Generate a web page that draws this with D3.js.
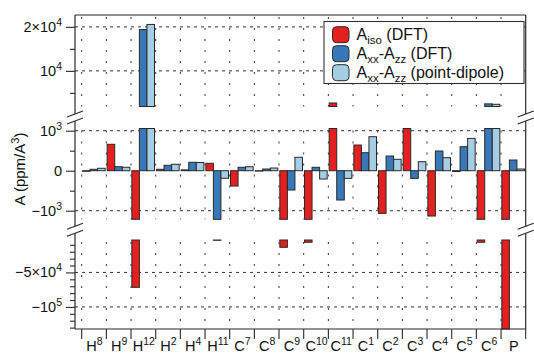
<!DOCTYPE html>
<html><head><meta charset="utf-8">
<script src="https://cdn.jsdelivr.net/npm/d3@7"></script>
<style>
html,body{margin:0;padding:0;background:#fff;}
svg{display:block;font-family:"Liberation Sans",Arial,Helvetica,sans-serif;}
</style></head><body>
<svg id="chart" width="534" height="354"></svg>
<script>
// Hyperfine coupling per nucleus: isotropic and anisotropic parts (ppm/Å^3)
const categories   = ["H8","H9","H12","H2","H4","H11","C7","C8","C9","C10","C11","C1","C2","C3","C4","C5","C6","P"];
const categoryAtom = ["H","H","H","H","H","H","C","C","C","C","C","C","C","C","C","C","C","P"];
const categorySite = ["8","9","12","2","4","11","7","8","9","10","11","1","2","3","4","5","6",""];

const aisoDFT     = [-15, 660, -71600, 35, 20, 185, -383, -10, -13600, -6300, 2700, 642, -1067, 1400, -1133, -20, -6300, -140000];
const anisoDFT    = [35, 100, 19400, 135, 210, -3400, 85, 42, -483, 85, -733, 450, 367, -192, 492, 600, 2500, 267];
const anisoDipole = [60, 85, 20550, 160, 205, -190, 100, 67, 335, -208, -192, 850, 285, 225, 325, 808, 2400, 42];

const seriesColors = ["#e41f1f", "#3878b8", "#a5cde3"];
// legend labels as [text, isSubscript] runs
const legendLabels = [
  [["A",0],["iso",1],[" (DFT)",0]],
  [["A",0],["xx",1],["-A",0],["zz",1],[" (DFT)",0]],
  [["A",0],["xx",1],["-A",0],["zz",1],[" (point-dipole)",0]]
];

// axis ticks per panel: values, label base and exponent
const topTicks = [10000, 20000], topTickBase = ["10","2\u00d710"], topTickSup = ["4","4"];
const topMinor = [5000, 15000];
const midTicks = [-1000, 0, 1000], midTickBase = ["\u221210","0","10"], midTickSup = ["3","","3"];
const midMinor = [-500, 500];
const botTicks = [-100000, -50000], botTickBase = ["\u221210","\u22125\u00d710"], botTickSup = ["5","4"];
const botMinor = [-10000,-20000,-30000,-40000,-60000,-70000,-80000,-90000,-110000,-120000,-130000];

const series = [aisoDFT, anisoDFT, anisoDipole];

const svg = d3.select("#chart");
const left = 75, right = 525.7, bottomY = 329, topY = 15;

const x0 = d3.scaleBand().domain(categories).range([81.7, right]).padding(0);
const bw = x0.bandwidth();
const x1 = d3.scaleBand().domain([0,1,2]).range([0.8, bw - 1.2]).padding(0);

const panels = [
  {domain:[1900, 22700],     range:[106.5, 15],   ticks:topTicks, base:topTickBase, sup:topTickSup, minor:topMinor},
  {domain:[-1215, 1055],     range:[219.3, 128.5], ticks:midTicks, base:midTickBase, sup:midTickSup, minor:midMinor},
  {domain:[-132000, -3000],  range:[329, 240],    ticks:botTicks, base:botTickBase, sup:botTickSup, minor:botMinor}
];
panels.forEach(p => { p.y = d3.scaleLinear().domain(p.domain).range(p.range); });

const ink = "#2a2a2a";
const gridG = svg.append("g");
const barG = svg.append("g");

// grid: dashed horizontals at labelled values, dotted verticals between groups
const bounds = categories.map(c => x0(c));
panels.forEach(p => {
  const gridTicks = p.ticks.filter(v => v !== 0);
  gridG.selectAll(null).data(gridTicks).join("line")
    .attr("x1", left).attr("x2", right)
    .attr("y1", d => p.y(d)).attr("y2", d => p.y(d))
    .attr("stroke", "#333").attr("stroke-width", 1).attr("stroke-dasharray", "3,4");
  gridG.selectAll(null).data(bounds).join("line")
    .attr("x1", d => d).attr("x2", d => d)
    .attr("y1", p.range[1] + 2).attr("y2", p.range[0])
    .attr("stroke", "#333").attr("stroke-width", 1).attr("stroke-dasharray", "2,9");
});

// bars, split over the three panels
panels.forEach(p => {
  const segs = [];
  series.forEach((vals, s) => {
    vals.forEach((v, i) => {
      const lo = Math.max(Math.min(0, v), p.domain[0]);
      const hi = Math.min(Math.max(0, v), p.domain[1]);
      if (hi > lo) segs.push({i, s, lo, hi});
    });
  });
  barG.selectAll(null).data(segs).join("rect")
    .attr("x", d => x0(categories[d.i]) + x1(d.s))
    .attr("width", x1.bandwidth())
    .attr("y", d => p.y(d.hi))
    .attr("height", d => Math.max(0.3, p.y(d.lo) - p.y(d.hi)))
    .attr("fill", d => seriesColors[d.s])
    .attr("stroke", ink).attr("stroke-width", 1);
});

// left axis ticks and labels
const axG = svg.append("g");
panels.forEach(p => {
  const major = axG.append("g").attr("transform", `translate(${left},0)`)
    .call(d3.axisLeft(p.y).tickValues(p.ticks).tickSize(9).tickFormat(""));
  major.select(".domain").remove();
  major.selectAll("line").attr("stroke", ink).attr("stroke-width", 1.1);
  const minor = axG.append("g").attr("transform", `translate(${left},0)`)
    .call(d3.axisLeft(p.y).tickValues(p.minor).tickSize(5).tickFormat(""));
  minor.select(".domain").remove();
  minor.selectAll("line").attr("stroke", ink).attr("stroke-width", 1.1);
  p.ticks.forEach((v, k) => {
    const t = axG.append("text").attr("x", 62).attr("y", p.y(v) + 5)
      .attr("text-anchor", "end").attr("font-size", 14.5).attr("fill", "#111");
    t.append("tspan").text(p.base[k]);
    if (p.sup[k]) t.append("tspan").attr("dy", -6).attr("font-size", 10.5).text(p.sup[k]);
  });
});

// frame with broken left and right edges
const gaps = [117.5, 229.7];
const frame = svg.append("g").attr("stroke", ink).attr("stroke-width", 1.2).attr("fill", "none");
frame.append("line").attr("x1", left).attr("x2", right).attr("y1", topY).attr("y2", topY);
frame.append("line").attr("x1", left).attr("x2", right).attr("y1", bottomY).attr("y2", bottomY);
[left, right].forEach(xe => {
  const segsY = [[topY, gaps[0] - 3.5], [gaps[0] + 3.5, gaps[1] - 3.5], [gaps[1] + 3.5, bottomY]];
  segsY.forEach(s => frame.append("line").attr("x1", xe).attr("x2", xe).attr("y1", s[0]).attr("y2", s[1]));
  gaps.forEach(g => {
    [-3.5, 3.5].forEach(o => {
      frame.append("line").attr("x1", xe - 8).attr("y1", g + o + 3)
        .attr("x2", xe + 8).attr("y2", g + o - 3);
    });
  });
});

// bottom axis: ticks between groups, labels with site numbers
const tickXs = bounds.concat([right]);
axG.selectAll(null).data(tickXs).join("line")
  .attr("x1", d => d).attr("x2", d => d).attr("y1", bottomY).attr("y2", bottomY + 10)
  .attr("stroke", ink).attr("stroke-width", 1.1);
categories.forEach((c, i) => {
  const t = axG.append("text").attr("x", x0(c) + bw / 2 + 0.5).attr("y", 351)
    .attr("text-anchor", "middle").attr("font-size", 14.5).attr("fill", "#111");
  t.append("tspan").text(categoryAtom[i]);
  if (categorySite[i]) t.append("tspan").attr("dy", -6.5).attr("font-size", 10.5).text(categorySite[i]);
});

// y axis title
const yt = svg.append("text").attr("transform", "translate(25,169) rotate(-90)")
  .attr("text-anchor", "middle").attr("font-size", 15).attr("fill", "#111");
yt.append("tspan").text("A (ppm/A");
yt.append("tspan").attr("dy", -6).attr("font-size", 11).text("3");
yt.append("tspan").attr("dy", 6).text(")");

// legend
const lg = svg.append("g");
lg.append("rect").attr("x", 324).attr("y", 21.5).attr("width", 200).attr("height", 62)
  .attr("fill", "#fff").attr("stroke", "#333").attr("stroke-width", 1.1);
legendLabels.forEach((runs, k) => {
  const cy = 34.7 + k * 19;
  lg.append("rect").attr("x", 332.5).attr("y", cy - 8).attr("width", 16.5).attr("height", 16)
    .attr("rx", 4).attr("fill", seriesColors[k]).attr("stroke", ink).attr("stroke-width", 1);
  const t = lg.append("text").attr("x", 356.5).attr("y", cy + 5.5).attr("font-size", 16).attr("fill", "#111");
  let shift = 0;
  runs.forEach(([txt, sub]) => {
    const want = sub ? 4 : 0;
    t.append("tspan").attr("dy", want - shift).attr("font-size", sub ? 11.5 : 16).text(txt);
    shift = want;
  });
});
</script>
</body></html>
